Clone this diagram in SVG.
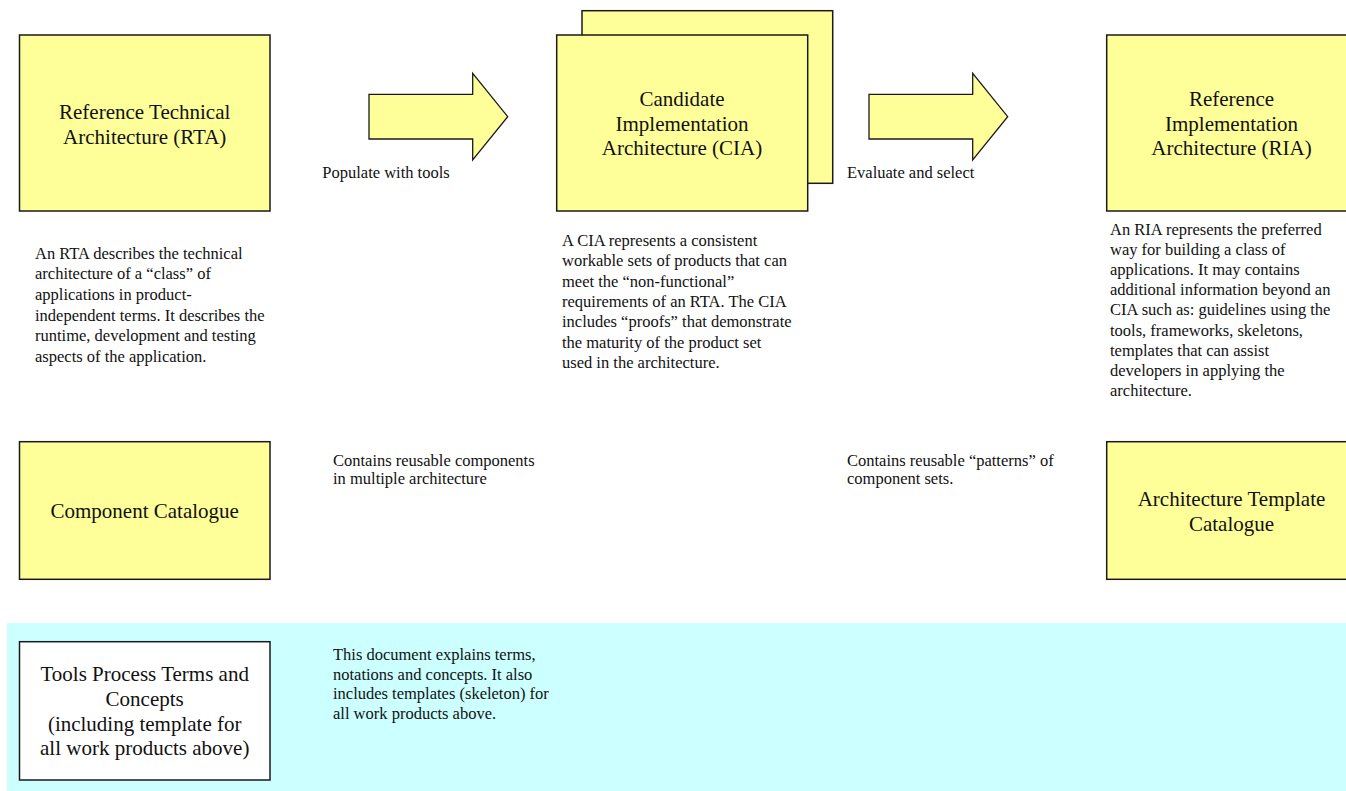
<svg xmlns="http://www.w3.org/2000/svg" width="1346" height="791" viewBox="0 0 1346 791">
  <style>
    .box { fill: #FFFF99; stroke: #1a1a1a; stroke-width: 1.5; }
    .plain { fill: #FFFFFF; stroke: #1a1a1a; stroke-width: 1.5; }
    .arrow { fill: #FFFF99; stroke: #1a1a1a; stroke-width: 1.3; stroke-linejoin: miter; }
    text { font-family: "Liberation Serif", "Times New Roman", "DejaVu Serif", serif; fill: #111; }
    .title { font-size: 21px; text-anchor: middle; }
    .note { font-size: 16.5px; }
  </style>

  <rect width="1346" height="791" fill="#FFFFFF"/>

  <!-- shared-docs band along the bottom -->
  <rect id="band" x="7" y="623" width="1339" height="168" fill="#CCFFFF"/>

  <!-- block arrows between the architecture stages -->
  <g id="connectors">
    <polygon class="arrow" points="369,94.3 472.7,94.3 472.7,73.3 507.7,116.7 472.7,160 472.7,139 369,139"/>
    <polygon class="arrow" points="869,94.3 972.7,94.3 972.7,73.3 1007.7,116.7 972.7,160 972.7,139 869,139"/>
  </g>

  <g id="rta" font-family="Liberation Serif, serif">
    <rect class="box" x="19.5" y="35" width="250.5" height="176"/>
    <text class="title" x="144.7" y="118.5">Reference Technical</text>
    <text class="title" x="144.7" y="143.5">Architecture (RTA)</text>
  </g>

  <g id="cia" font-family="Liberation Serif, serif">
    <rect class="box" x="582" y="10.7" width="250.7" height="172.6"/>
    <rect class="box" x="556.7" y="35" width="251" height="176"/>
    <text class="title" x="682" y="106">Candidate</text>
    <text class="title" x="682" y="130.7">Implementation</text>
    <text class="title" x="682" y="155.3">Architecture (CIA)</text>
  </g>

  <g id="ria" font-family="Liberation Serif, serif">
    <rect class="box" x="1106.7" y="35" width="250" height="176"/>
    <text class="title" x="1231.5" y="106">Reference</text>
    <text class="title" x="1231.5" y="130.7">Implementation</text>
    <text class="title" x="1231.5" y="155.3">Architecture (RIA)</text>
  </g>

  <g id="component-catalogue" font-family="Liberation Serif, serif">
    <rect class="box" x="19.5" y="441.7" width="250.5" height="137.6"/>
    <text class="title" x="144.7" y="517.5">Component Catalogue</text>
  </g>

  <g id="architecture-template-catalogue" font-family="Liberation Serif, serif">
    <rect class="box" x="1106.7" y="441.7" width="250" height="137.6"/>
    <text class="title" x="1231.5" y="506">Architecture Template</text>
    <text class="title" x="1231.5" y="530.5">Catalogue</text>
  </g>

  <g id="tools-process" font-family="Liberation Serif, serif">
    <rect class="plain" x="19.5" y="641.7" width="250.5" height="138.3"/>
    <text class="title" x="144.7" y="681">Tools Process Terms and</text>
    <text class="title" x="144.7" y="705.8">Concepts</text>
    <text class="title" x="144.7" y="730.6">(including template for</text>
    <text class="title" x="144.7" y="755.4">all work products above)</text>
  </g>

  <!-- captions -->
  <g id="populate-label">
    <text class="note" x="322.3" y="178.3">Populate with tools</text>
  </g>
  <g id="evaluate-label">
    <text class="note" x="847" y="178.3">Evaluate and select</text>
  </g>

  <g id="rta-notes">
    <text class="note">
      <tspan x="35" y="258.5">An RTA describes the technical</tspan>
      <tspan x="35" y="279.2">architecture of a “class” of</tspan>
      <tspan x="35" y="299.9">applications in product-</tspan>
      <tspan x="35" y="320.6">independent terms. It describes the</tspan>
      <tspan x="35" y="341.3">runtime, development and testing</tspan>
      <tspan x="35" y="362">aspects of the application.</tspan>
    </text>
  </g>

  <g id="cia-notes">
    <text class="note">
      <tspan x="562" y="246">A CIA represents a consistent</tspan>
      <tspan x="562" y="266.3">workable sets of products that can</tspan>
      <tspan x="562" y="286.6">meet the “non-functional”</tspan>
      <tspan x="562" y="306.9">requirements of an RTA. The CIA</tspan>
      <tspan x="562" y="327.2">includes “proofs” that demonstrate</tspan>
      <tspan x="562" y="347.5">the maturity of the product set</tspan>
      <tspan x="562" y="367.8">used in the architecture.</tspan>
    </text>
  </g>

  <g id="ria-notes">
    <text class="note">
      <tspan x="1110" y="234.5">An RIA represents the preferred</tspan>
      <tspan x="1110" y="254.7">way for building a class of</tspan>
      <tspan x="1110" y="274.9">applications. It may contains</tspan>
      <tspan x="1110" y="295.1">additional information beyond an</tspan>
      <tspan x="1110" y="315.3">CIA such as: guidelines using the</tspan>
      <tspan x="1110" y="335.5">tools, frameworks, skeletons,</tspan>
      <tspan x="1110" y="355.7">templates that can assist</tspan>
      <tspan x="1110" y="375.9">developers in applying the</tspan>
      <tspan x="1110" y="396.1">architecture.</tspan>
    </text>
  </g>

  <g id="component-notes">
    <text class="note">
      <tspan x="333" y="466">Contains reusable components</tspan>
      <tspan x="333" y="483.5">in multiple architecture</tspan>
    </text>
  </g>

  <g id="template-notes">
    <text class="note">
      <tspan x="847" y="466">Contains reusable “patterns” of</tspan>
      <tspan x="847" y="483.5">component sets.</tspan>
    </text>
  </g>

  <g id="tools-notes">
    <text class="note">
      <tspan x="333" y="660">This document explains terms,</tspan>
      <tspan x="333" y="679.5">notations and concepts. It also</tspan>
      <tspan x="333" y="699">includes templates (skeleton) for</tspan>
      <tspan x="333" y="718.5">all work products above.</tspan>
    </text>
  </g>
</svg>
